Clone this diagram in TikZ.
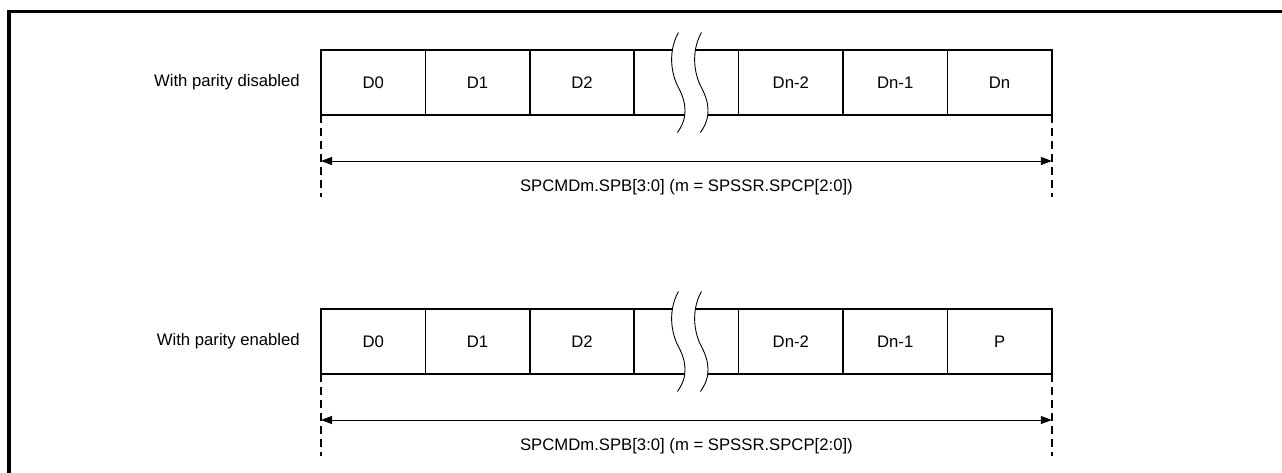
\documentclass[tikz,border=0pt]{standalone}
\usepackage{fontspec}
\setmainfont{Liberation Sans}
\usepackage{tikz}
\usetikzlibrary{positioning, calc, arrows.meta}

\begin{document}
\begin{tikzpicture}[x=1pt, y=-1pt, node distance=104.4pt, font=\fontsize{16.7pt}{19pt}\selectfont]

% Defined styles
\tikzstyle{cell} = [rectangle, minimum width=104.4pt, minimum height=65pt, inner sep=0pt, outer sep=0pt, text centered, draw=black, line width=1.6pt]
\tikzstyle{gapcell} = [rectangle, minimum width=104.4pt, minimum height=65pt, inner sep=0pt]
\tikzstyle{rowlabel} = [inner sep=0pt, anchor=east]
\tikzstyle{dimtext} = [inner sep=0pt]
\tikzstyle{edge} = [line width=1.6pt]
\tikzstyle{brk} = [line width=0.9pt]
\tikzstyle{ext} = [line width=1.7pt, dash pattern=on 8pt off 5pt]
\tikzstyle{dim} = [line width=0.9pt, <->, >={Triangle[length=11pt, width=8pt]}]
\tikzstyle{frame} = [line width=3.6pt]

\useasboundingbox (0,0) rectangle (1282,472);

% --- Outer frame (top and left only) ---
\draw [frame] (8.7,480) -- (8.7,11.3) -- (1290,11.3);

% --- Row 1: parity disabled ---
\node (d0a) [cell] at (373.2,82.5) {D0};
\node (d1a) [cell, right of=d0a] {D1};
\node (d2a) [cell, right of=d1a] {D2};
\node (gapa) [gapcell, right of=d2a] {};
\node (dn2a) [cell, right of=gapa] {Dn-2};
\node (dn1a) [cell, right of=dn2a] {Dn-1};
\node (dna) [cell, right of=dn1a] {Dn};
\node (laba) [rowlabel, left=21pt of d0a] {With parity disabled};

% break in the frame
\begin{scope}[shift={(gapa.center)}]
\draw [edge] (d2a.north east) -- (-14,-32.5);
\draw [edge] (d2a.south east) -- (-1.6,32.5);
\draw [edge] (dn2a.north west) -- (9,-32.5);
\draw [edge] (dn2a.south west) -- (21.4,32.5);
\draw [brk] (-8,-50) .. controls (-18,-32) and (-16,-10) .. (-8,5) .. controls (0,20) and (2,35) .. (-9,50);
\draw [brk] (15,-50) .. controls (5,-32) and (7,-10) .. (15,5) .. controls (23,20) and (25,35) .. (14,50);
\end{scope}

% extension lines and span
\coordinate (exla) at ([yshift=-82pt]d0a.south west);
\coordinate (exra) at ([yshift=-82pt]dna.south east);
\coordinate (arla) at ([yshift=-46pt]d0a.south west);
\coordinate (arra) at ([yshift=-46pt]dna.south east);
\draw [ext] (d0a.south west) -- (exla);
\draw [ext] (dna.south east) -- (exra);
\draw [dim] (arla) -- (arra);
\node (spana) [dimtext] at ($(d0a.south west)!0.5!(dna.south east)+(0,72)$) {SPCMDm.SPB[3:0] (m = SPSSR.SPCP[2:0])};

% --- Row 2: parity enabled ---
\node (d0b) [cell] at (373.2,341.5) {D0};
\node (d1b) [cell, right of=d0b] {D1};
\node (d2b) [cell, right of=d1b] {D2};
\node (gapb) [gapcell, right of=d2b] {};
\node (dn2b) [cell, right of=gapb] {Dn-2};
\node (dn1b) [cell, right of=dn2b] {Dn-1};
\node (pb) [cell, right of=dn1b] {P};
\node (labb) [rowlabel, left=21pt of d0b] {With parity enabled};

% break in the frame
\begin{scope}[shift={(gapb.center)}]
\draw [edge] (d2b.north east) -- (-14,-32.5);
\draw [edge] (d2b.south east) -- (-1.6,32.5);
\draw [edge] (dn2b.north west) -- (9,-32.5);
\draw [edge] (dn2b.south west) -- (21.4,32.5);
\draw [brk] (-8,-50) .. controls (-18,-32) and (-16,-10) .. (-8,5) .. controls (0,20) and (2,35) .. (-9,50);
\draw [brk] (15,-50) .. controls (5,-32) and (7,-10) .. (15,5) .. controls (23,20) and (25,35) .. (14,50);
\end{scope}

% extension lines and span
\coordinate (exlb) at ([yshift=-82pt]d0b.south west);
\coordinate (exrb) at ([yshift=-82pt]pb.south east);
\coordinate (arlb) at ([yshift=-46pt]d0b.south west);
\coordinate (arrb) at ([yshift=-46pt]pb.south east);
\draw [ext] (d0b.south west) -- (exlb);
\draw [ext] (pb.south east) -- (exrb);
\draw [dim] (arlb) -- (arrb);
\node (spanb) [dimtext] at ($(d0b.south west)!0.5!(pb.south east)+(0,72)$) {SPCMDm.SPB[3:0] (m = SPSSR.SPCP[2:0])};

\end{tikzpicture}
\end{document}
